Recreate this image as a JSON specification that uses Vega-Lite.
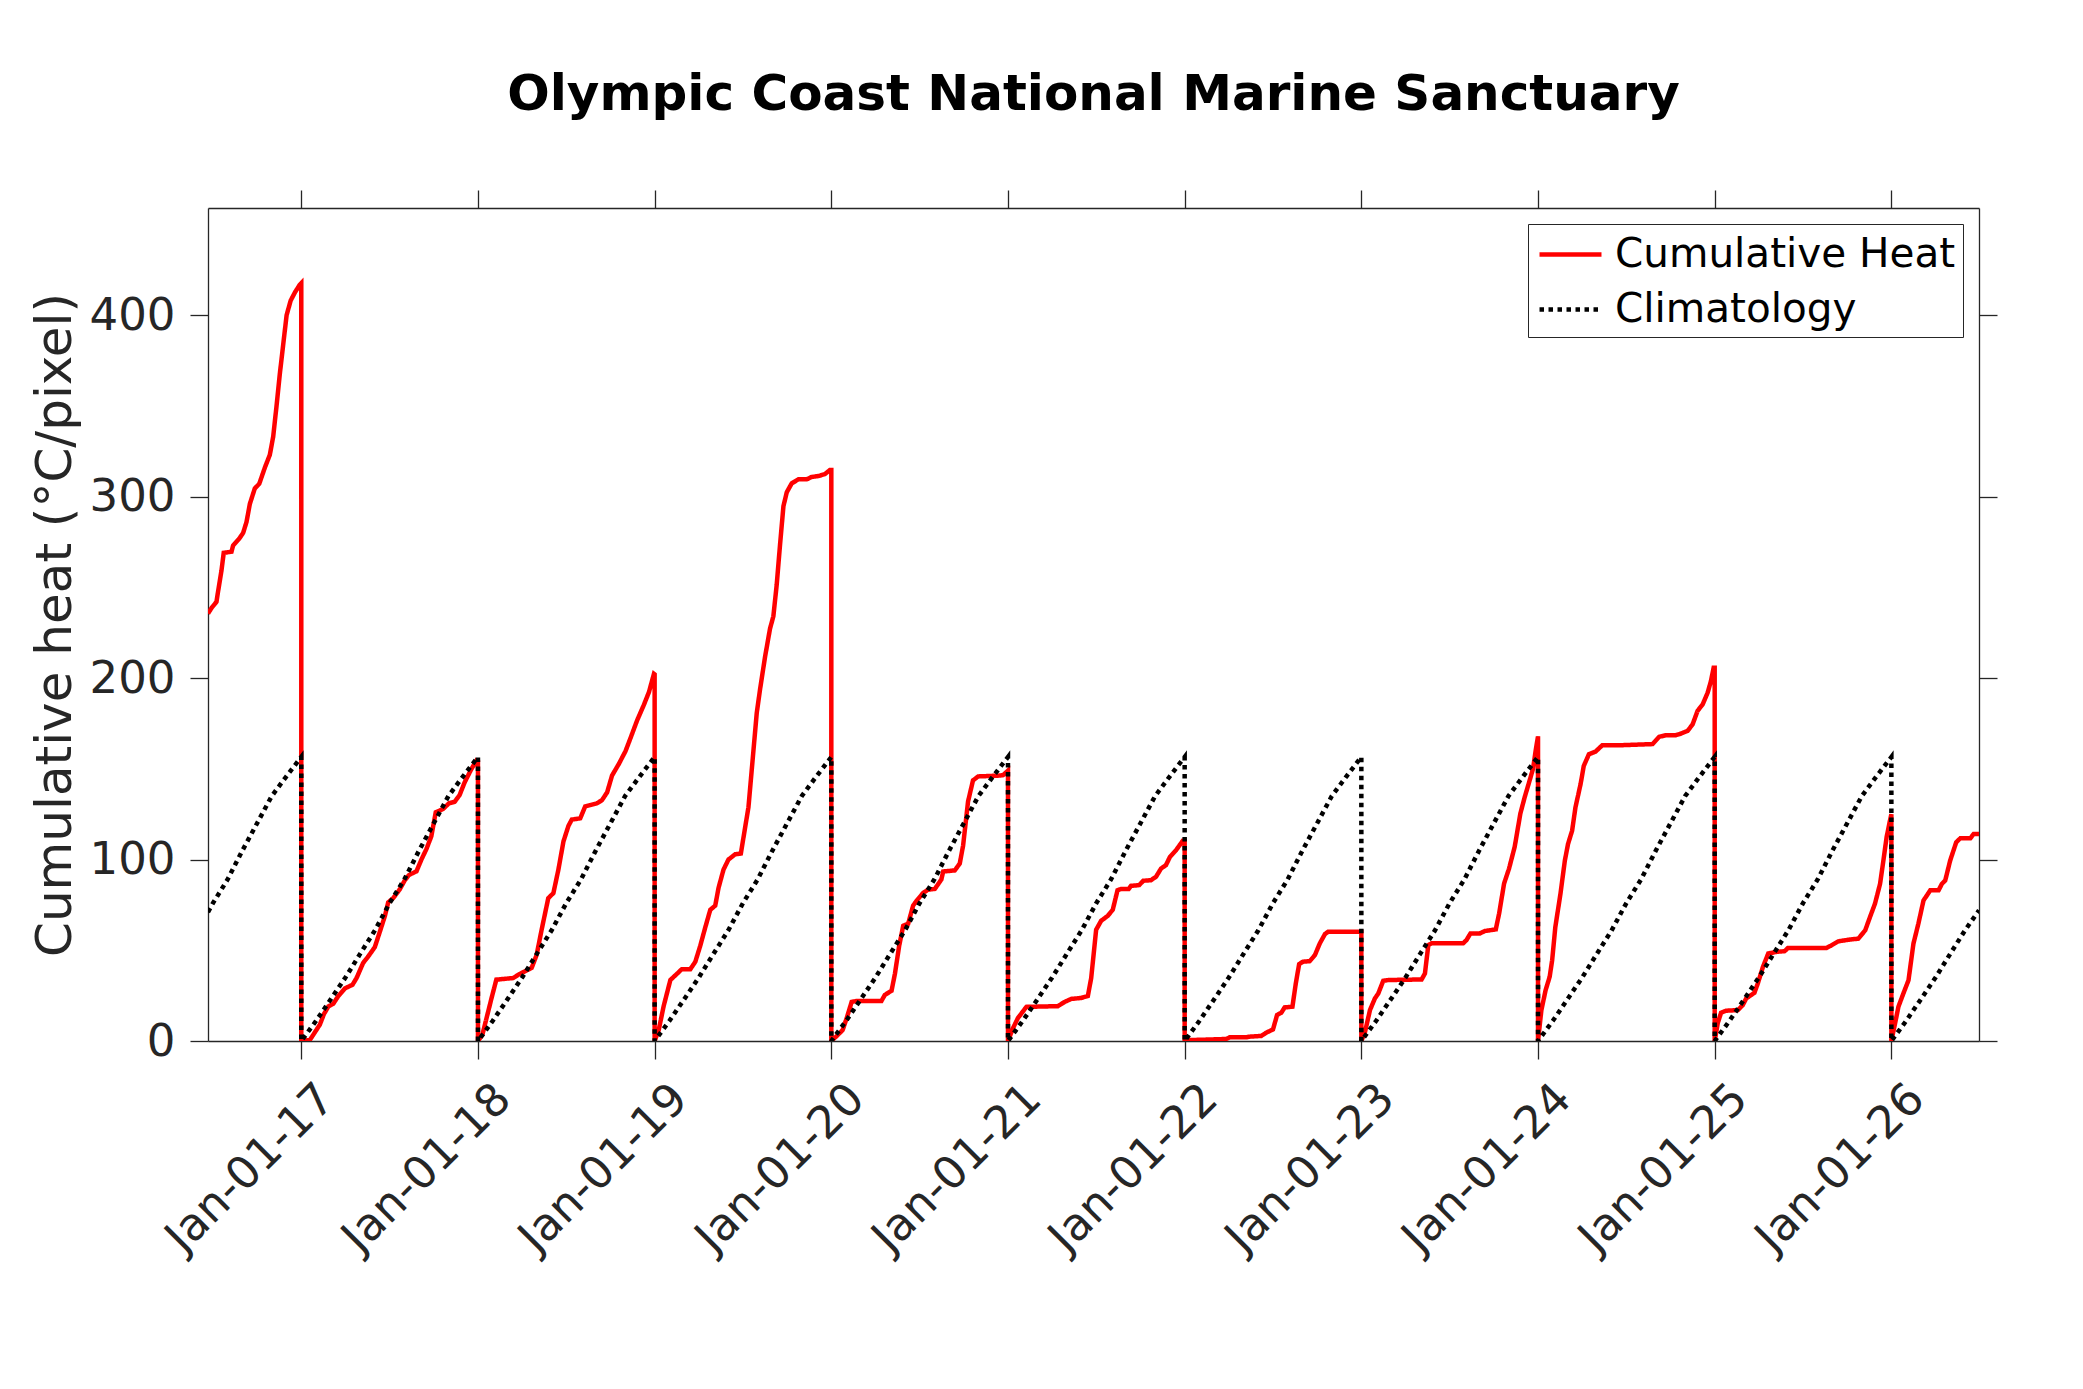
{
  "$schema": "https://vega.github.io/schema/vega-lite/v6.json",
  "autosize": {"type": "none"},
  "width": 1771,
  "height": 833,
  "padding": {"left": 208, "top": 208, "right": 104, "bottom": 348},
  "background": "white",
  "title": {
    "text": "Olympic Coast National Marine Sanctuary",
    "font": "DejaVu Sans",
    "fontSize": 50,
    "fontWeight": "bold",
    "color": "black",
    "anchor": "middle",
    "frame": "group",
    "baseline": "alphabetic",
    "offset": 29
  },
  "data": {
    "values": [
      {"s": "Cumulative Heat", "t": 2016.472, "v": 235.5},
      {"s": "Cumulative Heat", "t": 2016.492, "v": 238.6},
      {"s": "Cumulative Heat", "t": 2016.520, "v": 242},
      {"s": "Cumulative Heat", "t": 2016.529, "v": 247.7},
      {"s": "Cumulative Heat", "t": 2016.548, "v": 259},
      {"s": "Cumulative Heat", "t": 2016.561, "v": 269},
      {"s": "Cumulative Heat", "t": 2016.605, "v": 269.6},
      {"s": "Cumulative Heat", "t": 2016.614, "v": 273},
      {"s": "Cumulative Heat", "t": 2016.648, "v": 276.7},
      {"s": "Cumulative Heat", "t": 2016.671, "v": 280},
      {"s": "Cumulative Heat", "t": 2016.690, "v": 286},
      {"s": "Cumulative Heat", "t": 2016.709, "v": 296},
      {"s": "Cumulative Heat", "t": 2016.737, "v": 304.5},
      {"s": "Cumulative Heat", "t": 2016.762, "v": 307},
      {"s": "Cumulative Heat", "t": 2016.794, "v": 316},
      {"s": "Cumulative Heat", "t": 2016.822, "v": 323},
      {"s": "Cumulative Heat", "t": 2016.841, "v": 333},
      {"s": "Cumulative Heat", "t": 2016.860, "v": 350},
      {"s": "Cumulative Heat", "t": 2016.879, "v": 368},
      {"s": "Cumulative Heat", "t": 2016.898, "v": 384},
      {"s": "Cumulative Heat", "t": 2016.917, "v": 400},
      {"s": "Cumulative Heat", "t": 2016.940, "v": 408},
      {"s": "Cumulative Heat", "t": 2016.964, "v": 412.5},
      {"s": "Cumulative Heat", "t": 2016.992, "v": 416.8},
      {"s": "Cumulative Heat", "t": 2017.000, "v": 417.6},
      {"s": "Cumulative Heat", "t": 2017.000, "v": 0},
      {"s": "Cumulative Heat", "t": 2017.049, "v": 0.6},
      {"s": "Cumulative Heat", "t": 2017.077, "v": 4.8},
      {"s": "Cumulative Heat", "t": 2017.105, "v": 9},
      {"s": "Cumulative Heat", "t": 2017.128, "v": 14.8},
      {"s": "Cumulative Heat", "t": 2017.153, "v": 19},
      {"s": "Cumulative Heat", "t": 2017.181, "v": 20.5},
      {"s": "Cumulative Heat", "t": 2017.209, "v": 24.7},
      {"s": "Cumulative Heat", "t": 2017.247, "v": 29},
      {"s": "Cumulative Heat", "t": 2017.290, "v": 31},
      {"s": "Cumulative Heat", "t": 2017.313, "v": 34.7},
      {"s": "Cumulative Heat", "t": 2017.350, "v": 43},
      {"s": "Cumulative Heat", "t": 2017.379, "v": 46.6},
      {"s": "Cumulative Heat", "t": 2017.416, "v": 51.7},
      {"s": "Cumulative Heat", "t": 2017.444, "v": 60},
      {"s": "Cumulative Heat", "t": 2017.473, "v": 68.8},
      {"s": "Cumulative Heat", "t": 2017.492, "v": 76.4},
      {"s": "Cumulative Heat", "t": 2017.520, "v": 78.7},
      {"s": "Cumulative Heat", "t": 2017.557, "v": 83.5},
      {"s": "Cumulative Heat", "t": 2017.586, "v": 88.6},
      {"s": "Cumulative Heat", "t": 2017.610, "v": 91.5},
      {"s": "Cumulative Heat", "t": 2017.652, "v": 93.5},
      {"s": "Cumulative Heat", "t": 2017.680, "v": 100},
      {"s": "Cumulative Heat", "t": 2017.708, "v": 105.7},
      {"s": "Cumulative Heat", "t": 2017.736, "v": 112.8},
      {"s": "Cumulative Heat", "t": 2017.761, "v": 126},
      {"s": "Cumulative Heat", "t": 2017.802, "v": 127.8},
      {"s": "Cumulative Heat", "t": 2017.836, "v": 131},
      {"s": "Cumulative Heat", "t": 2017.868, "v": 131.8},
      {"s": "Cumulative Heat", "t": 2017.896, "v": 135.5},
      {"s": "Cumulative Heat", "t": 2017.925, "v": 142.6},
      {"s": "Cumulative Heat", "t": 2017.962, "v": 149.7},
      {"s": "Cumulative Heat", "t": 2017.991, "v": 154.5},
      {"s": "Cumulative Heat", "t": 2018.000, "v": 154},
      {"s": "Cumulative Heat", "t": 2018.000, "v": 0},
      {"s": "Cumulative Heat", "t": 2018.025, "v": 3.4},
      {"s": "Cumulative Heat", "t": 2018.047, "v": 12},
      {"s": "Cumulative Heat", "t": 2018.076, "v": 23.3},
      {"s": "Cumulative Heat", "t": 2018.104, "v": 33.8},
      {"s": "Cumulative Heat", "t": 2018.199, "v": 34.7},
      {"s": "Cumulative Heat", "t": 2018.237, "v": 37},
      {"s": "Cumulative Heat", "t": 2018.266, "v": 38.4},
      {"s": "Cumulative Heat", "t": 2018.304, "v": 40.3},
      {"s": "Cumulative Heat", "t": 2018.332, "v": 47.4},
      {"s": "Cumulative Heat", "t": 2018.361, "v": 61.6},
      {"s": "Cumulative Heat", "t": 2018.398, "v": 78.7},
      {"s": "Cumulative Heat", "t": 2018.427, "v": 81.5},
      {"s": "Cumulative Heat", "t": 2018.455, "v": 94.3},
      {"s": "Cumulative Heat", "t": 2018.484, "v": 110},
      {"s": "Cumulative Heat", "t": 2018.512, "v": 118.5},
      {"s": "Cumulative Heat", "t": 2018.531, "v": 122},
      {"s": "Cumulative Heat", "t": 2018.579, "v": 122.7},
      {"s": "Cumulative Heat", "t": 2018.607, "v": 129.3},
      {"s": "Cumulative Heat", "t": 2018.674, "v": 131},
      {"s": "Cumulative Heat", "t": 2018.702, "v": 132.7},
      {"s": "Cumulative Heat", "t": 2018.731, "v": 137},
      {"s": "Cumulative Heat", "t": 2018.759, "v": 146.3},
      {"s": "Cumulative Heat", "t": 2018.797, "v": 152.6},
      {"s": "Cumulative Heat", "t": 2018.835, "v": 159.7},
      {"s": "Cumulative Heat", "t": 2018.863, "v": 166.8},
      {"s": "Cumulative Heat", "t": 2018.901, "v": 176.7},
      {"s": "Cumulative Heat", "t": 2018.939, "v": 185.2},
      {"s": "Cumulative Heat", "t": 2018.968, "v": 192.3},
      {"s": "Cumulative Heat", "t": 2018.996, "v": 202.3},
      {"s": "Cumulative Heat", "t": 2019.000, "v": 202},
      {"s": "Cumulative Heat", "t": 2019.000, "v": 0},
      {"s": "Cumulative Heat", "t": 2019.023, "v": 6},
      {"s": "Cumulative Heat", "t": 2019.051, "v": 19.2},
      {"s": "Cumulative Heat", "t": 2019.089, "v": 33.6},
      {"s": "Cumulative Heat", "t": 2019.126, "v": 37},
      {"s": "Cumulative Heat", "t": 2019.154, "v": 39.6},
      {"s": "Cumulative Heat", "t": 2019.202, "v": 39.6},
      {"s": "Cumulative Heat", "t": 2019.230, "v": 43.6},
      {"s": "Cumulative Heat", "t": 2019.258, "v": 52.4},
      {"s": "Cumulative Heat", "t": 2019.286, "v": 62.4},
      {"s": "Cumulative Heat", "t": 2019.315, "v": 72.3},
      {"s": "Cumulative Heat", "t": 2019.343, "v": 74.6},
      {"s": "Cumulative Heat", "t": 2019.362, "v": 84.5},
      {"s": "Cumulative Heat", "t": 2019.390, "v": 94.5},
      {"s": "Cumulative Heat", "t": 2019.418, "v": 100},
      {"s": "Cumulative Heat", "t": 2019.456, "v": 102.9},
      {"s": "Cumulative Heat", "t": 2019.488, "v": 103.3},
      {"s": "Cumulative Heat", "t": 2019.503, "v": 112.2},
      {"s": "Cumulative Heat", "t": 2019.531, "v": 128.8},
      {"s": "Cumulative Heat", "t": 2019.550, "v": 149.8},
      {"s": "Cumulative Heat", "t": 2019.578, "v": 180.8},
      {"s": "Cumulative Heat", "t": 2019.597, "v": 194},
      {"s": "Cumulative Heat", "t": 2019.625, "v": 211.7},
      {"s": "Cumulative Heat", "t": 2019.653, "v": 227.2},
      {"s": "Cumulative Heat", "t": 2019.672, "v": 234},
      {"s": "Cumulative Heat", "t": 2019.691, "v": 251.5},
      {"s": "Cumulative Heat", "t": 2019.710, "v": 273.7},
      {"s": "Cumulative Heat", "t": 2019.729, "v": 294.7},
      {"s": "Cumulative Heat", "t": 2019.748, "v": 302.4},
      {"s": "Cumulative Heat", "t": 2019.776, "v": 307.3},
      {"s": "Cumulative Heat", "t": 2019.814, "v": 309.5},
      {"s": "Cumulative Heat", "t": 2019.861, "v": 309.5},
      {"s": "Cumulative Heat", "t": 2019.889, "v": 310.8},
      {"s": "Cumulative Heat", "t": 2019.927, "v": 311.3},
      {"s": "Cumulative Heat", "t": 2019.964, "v": 312.4},
      {"s": "Cumulative Heat", "t": 2019.992, "v": 314.6},
      {"s": "Cumulative Heat", "t": 2020.000, "v": 314.6},
      {"s": "Cumulative Heat", "t": 2020.000, "v": 0},
      {"s": "Cumulative Heat", "t": 2020.030, "v": 2.7},
      {"s": "Cumulative Heat", "t": 2020.064, "v": 6},
      {"s": "Cumulative Heat", "t": 2020.087, "v": 12.6},
      {"s": "Cumulative Heat", "t": 2020.115, "v": 21.5},
      {"s": "Cumulative Heat", "t": 2020.143, "v": 22.1},
      {"s": "Cumulative Heat", "t": 2020.284, "v": 22.1},
      {"s": "Cumulative Heat", "t": 2020.303, "v": 25.4},
      {"s": "Cumulative Heat", "t": 2020.341, "v": 27.7},
      {"s": "Cumulative Heat", "t": 2020.360, "v": 37},
      {"s": "Cumulative Heat", "t": 2020.384, "v": 52.4},
      {"s": "Cumulative Heat", "t": 2020.407, "v": 63.5},
      {"s": "Cumulative Heat", "t": 2020.435, "v": 64.6},
      {"s": "Cumulative Heat", "t": 2020.463, "v": 74.6},
      {"s": "Cumulative Heat", "t": 2020.482, "v": 77.2},
      {"s": "Cumulative Heat", "t": 2020.520, "v": 81.6},
      {"s": "Cumulative Heat", "t": 2020.548, "v": 83.4},
      {"s": "Cumulative Heat", "t": 2020.586, "v": 83.8},
      {"s": "Cumulative Heat", "t": 2020.623, "v": 89},
      {"s": "Cumulative Heat", "t": 2020.633, "v": 93.4},
      {"s": "Cumulative Heat", "t": 2020.699, "v": 94},
      {"s": "Cumulative Heat", "t": 2020.727, "v": 97.8},
      {"s": "Cumulative Heat", "t": 2020.746, "v": 107.7},
      {"s": "Cumulative Heat", "t": 2020.774, "v": 132},
      {"s": "Cumulative Heat", "t": 2020.802, "v": 143.6},
      {"s": "Cumulative Heat", "t": 2020.831, "v": 145.8},
      {"s": "Cumulative Heat", "t": 2020.944, "v": 146.2},
      {"s": "Cumulative Heat", "t": 2020.972, "v": 146.5},
      {"s": "Cumulative Heat", "t": 2021.000, "v": 149},
      {"s": "Cumulative Heat", "t": 2021.000, "v": 0},
      {"s": "Cumulative Heat", "t": 2021.028, "v": 7},
      {"s": "Cumulative Heat", "t": 2021.056, "v": 12.6},
      {"s": "Cumulative Heat", "t": 2021.104, "v": 18.8},
      {"s": "Cumulative Heat", "t": 2021.282, "v": 19.2},
      {"s": "Cumulative Heat", "t": 2021.320, "v": 21.5},
      {"s": "Cumulative Heat", "t": 2021.358, "v": 23.2},
      {"s": "Cumulative Heat", "t": 2021.414, "v": 23.7},
      {"s": "Cumulative Heat", "t": 2021.452, "v": 24.8},
      {"s": "Cumulative Heat", "t": 2021.471, "v": 34.7},
      {"s": "Cumulative Heat", "t": 2021.499, "v": 61.3},
      {"s": "Cumulative Heat", "t": 2021.527, "v": 66.2},
      {"s": "Cumulative Heat", "t": 2021.565, "v": 69},
      {"s": "Cumulative Heat", "t": 2021.593, "v": 72.3},
      {"s": "Cumulative Heat", "t": 2021.620, "v": 83.1},
      {"s": "Cumulative Heat", "t": 2021.639, "v": 83.7},
      {"s": "Cumulative Heat", "t": 2021.683, "v": 83.7},
      {"s": "Cumulative Heat", "t": 2021.696, "v": 85.5},
      {"s": "Cumulative Heat", "t": 2021.743, "v": 85.9},
      {"s": "Cumulative Heat", "t": 2021.766, "v": 88.3},
      {"s": "Cumulative Heat", "t": 2021.809, "v": 88.6},
      {"s": "Cumulative Heat", "t": 2021.838, "v": 90.5},
      {"s": "Cumulative Heat", "t": 2021.866, "v": 95},
      {"s": "Cumulative Heat", "t": 2021.894, "v": 96.9},
      {"s": "Cumulative Heat", "t": 2021.917, "v": 101.5},
      {"s": "Cumulative Heat", "t": 2021.951, "v": 105.1},
      {"s": "Cumulative Heat", "t": 2021.989, "v": 110.3},
      {"s": "Cumulative Heat", "t": 2022.000, "v": 110.3},
      {"s": "Cumulative Heat", "t": 2022.000, "v": 0},
      {"s": "Cumulative Heat", "t": 2022.027, "v": 0.5},
      {"s": "Cumulative Heat", "t": 2022.235, "v": 1.1},
      {"s": "Cumulative Heat", "t": 2022.254, "v": 2},
      {"s": "Cumulative Heat", "t": 2022.348, "v": 2},
      {"s": "Cumulative Heat", "t": 2022.367, "v": 2.4},
      {"s": "Cumulative Heat", "t": 2022.434, "v": 2.8},
      {"s": "Cumulative Heat", "t": 2022.462, "v": 4.6},
      {"s": "Cumulative Heat", "t": 2022.500, "v": 6.4},
      {"s": "Cumulative Heat", "t": 2022.523, "v": 14.3},
      {"s": "Cumulative Heat", "t": 2022.547, "v": 15.6},
      {"s": "Cumulative Heat", "t": 2022.566, "v": 18.5},
      {"s": "Cumulative Heat", "t": 2022.610, "v": 18.9},
      {"s": "Cumulative Heat", "t": 2022.629, "v": 31.7},
      {"s": "Cumulative Heat", "t": 2022.648, "v": 42.4},
      {"s": "Cumulative Heat", "t": 2022.670, "v": 43.7},
      {"s": "Cumulative Heat", "t": 2022.708, "v": 44},
      {"s": "Cumulative Heat", "t": 2022.737, "v": 47.3},
      {"s": "Cumulative Heat", "t": 2022.765, "v": 53.8},
      {"s": "Cumulative Heat", "t": 2022.794, "v": 58.9},
      {"s": "Cumulative Heat", "t": 2022.812, "v": 60.2},
      {"s": "Cumulative Heat", "t": 2023.000, "v": 60.2},
      {"s": "Cumulative Heat", "t": 2023.000, "v": 0},
      {"s": "Cumulative Heat", "t": 2023.021, "v": 5.1},
      {"s": "Cumulative Heat", "t": 2023.049, "v": 17.1},
      {"s": "Cumulative Heat", "t": 2023.077, "v": 23.5},
      {"s": "Cumulative Heat", "t": 2023.096, "v": 26.2},
      {"s": "Cumulative Heat", "t": 2023.124, "v": 33.2},
      {"s": "Cumulative Heat", "t": 2023.153, "v": 33.6},
      {"s": "Cumulative Heat", "t": 2023.341, "v": 33.9},
      {"s": "Cumulative Heat", "t": 2023.360, "v": 37.2},
      {"s": "Cumulative Heat", "t": 2023.379, "v": 52.8},
      {"s": "Cumulative Heat", "t": 2023.397, "v": 53.8},
      {"s": "Cumulative Heat", "t": 2023.576, "v": 53.8},
      {"s": "Cumulative Heat", "t": 2023.595, "v": 55.6},
      {"s": "Cumulative Heat", "t": 2023.618, "v": 59.3},
      {"s": "Cumulative Heat", "t": 2023.671, "v": 59.3},
      {"s": "Cumulative Heat", "t": 2023.699, "v": 60.6},
      {"s": "Cumulative Heat", "t": 2023.761, "v": 61.5},
      {"s": "Cumulative Heat", "t": 2023.780, "v": 70.3},
      {"s": "Cumulative Heat", "t": 2023.808, "v": 86.8},
      {"s": "Cumulative Heat", "t": 2023.836, "v": 95},
      {"s": "Cumulative Heat", "t": 2023.868, "v": 107},
      {"s": "Cumulative Heat", "t": 2023.900, "v": 125.3},
      {"s": "Cumulative Heat", "t": 2023.925, "v": 134.5},
      {"s": "Cumulative Heat", "t": 2023.953, "v": 143.7},
      {"s": "Cumulative Heat", "t": 2023.972, "v": 150.1},
      {"s": "Cumulative Heat", "t": 2023.987, "v": 160.2},
      {"s": "Cumulative Heat", "t": 2024.000, "v": 167.9},
      {"s": "Cumulative Heat", "t": 2024.000, "v": 0},
      {"s": "Cumulative Heat", "t": 2024.019, "v": 17},
      {"s": "Cumulative Heat", "t": 2024.043, "v": 28},
      {"s": "Cumulative Heat", "t": 2024.066, "v": 35.4},
      {"s": "Cumulative Heat", "t": 2024.080, "v": 44.5},
      {"s": "Cumulative Heat", "t": 2024.098, "v": 62.8},
      {"s": "Cumulative Heat", "t": 2024.127, "v": 81.1},
      {"s": "Cumulative Heat", "t": 2024.152, "v": 99.5},
      {"s": "Cumulative Heat", "t": 2024.170, "v": 108.6},
      {"s": "Cumulative Heat", "t": 2024.193, "v": 115.9},
      {"s": "Cumulative Heat", "t": 2024.212, "v": 128.8},
      {"s": "Cumulative Heat", "t": 2024.241, "v": 141.6},
      {"s": "Cumulative Heat", "t": 2024.259, "v": 151.6},
      {"s": "Cumulative Heat", "t": 2024.288, "v": 158},
      {"s": "Cumulative Heat", "t": 2024.326, "v": 159.5},
      {"s": "Cumulative Heat", "t": 2024.364, "v": 163},
      {"s": "Cumulative Heat", "t": 2024.477, "v": 163},
      {"s": "Cumulative Heat", "t": 2024.648, "v": 163.6},
      {"s": "Cumulative Heat", "t": 2024.686, "v": 167.6},
      {"s": "Cumulative Heat", "t": 2024.723, "v": 168.5},
      {"s": "Cumulative Heat", "t": 2024.780, "v": 168.5},
      {"s": "Cumulative Heat", "t": 2024.809, "v": 169.4},
      {"s": "Cumulative Heat", "t": 2024.847, "v": 170.9},
      {"s": "Cumulative Heat", "t": 2024.875, "v": 174.5},
      {"s": "Cumulative Heat", "t": 2024.903, "v": 181.9},
      {"s": "Cumulative Heat", "t": 2024.932, "v": 185.5},
      {"s": "Cumulative Heat", "t": 2024.960, "v": 191.9},
      {"s": "Cumulative Heat", "t": 2024.979, "v": 198.4},
      {"s": "Cumulative Heat", "t": 2024.994, "v": 205.7},
      {"s": "Cumulative Heat", "t": 2025.000, "v": 205.7},
      {"s": "Cumulative Heat", "t": 2025.000, "v": 0},
      {"s": "Cumulative Heat", "t": 2025.017, "v": 9.7},
      {"s": "Cumulative Heat", "t": 2025.036, "v": 15.6},
      {"s": "Cumulative Heat", "t": 2025.064, "v": 16.7},
      {"s": "Cumulative Heat", "t": 2025.131, "v": 17},
      {"s": "Cumulative Heat", "t": 2025.159, "v": 19.8},
      {"s": "Cumulative Heat", "t": 2025.178, "v": 23.4},
      {"s": "Cumulative Heat", "t": 2025.225, "v": 26.6},
      {"s": "Cumulative Heat", "t": 2025.244, "v": 31.7},
      {"s": "Cumulative Heat", "t": 2025.273, "v": 40.8},
      {"s": "Cumulative Heat", "t": 2025.303, "v": 48.2},
      {"s": "Cumulative Heat", "t": 2025.348, "v": 49.1},
      {"s": "Cumulative Heat", "t": 2025.396, "v": 49.5},
      {"s": "Cumulative Heat", "t": 2025.415, "v": 51.3},
      {"s": "Cumulative Heat", "t": 2025.633, "v": 51.3},
      {"s": "Cumulative Heat", "t": 2025.661, "v": 52.7},
      {"s": "Cumulative Heat", "t": 2025.699, "v": 54.9},
      {"s": "Cumulative Heat", "t": 2025.765, "v": 55.9},
      {"s": "Cumulative Heat", "t": 2025.813, "v": 56.4},
      {"s": "Cumulative Heat", "t": 2025.852, "v": 61},
      {"s": "Cumulative Heat", "t": 2025.879, "v": 68.3},
      {"s": "Cumulative Heat", "t": 2025.907, "v": 75.6},
      {"s": "Cumulative Heat", "t": 2025.936, "v": 86.6},
      {"s": "Cumulative Heat", "t": 2025.955, "v": 99.5},
      {"s": "Cumulative Heat", "t": 2025.973, "v": 112.3},
      {"s": "Cumulative Heat", "t": 2025.992, "v": 121.4},
      {"s": "Cumulative Heat", "t": 2026.000, "v": 125},
      {"s": "Cumulative Heat", "t": 2026.000, "v": 0},
      {"s": "Cumulative Heat", "t": 2026.021, "v": 9.7},
      {"s": "Cumulative Heat", "t": 2026.040, "v": 18.9},
      {"s": "Cumulative Heat", "t": 2026.068, "v": 26.2},
      {"s": "Cumulative Heat", "t": 2026.097, "v": 33.5},
      {"s": "Cumulative Heat", "t": 2026.125, "v": 53.7},
      {"s": "Cumulative Heat", "t": 2026.153, "v": 64.7},
      {"s": "Cumulative Heat", "t": 2026.182, "v": 77.5},
      {"s": "Cumulative Heat", "t": 2026.201, "v": 80.2},
      {"s": "Cumulative Heat", "t": 2026.220, "v": 83},
      {"s": "Cumulative Heat", "t": 2026.267, "v": 83},
      {"s": "Cumulative Heat", "t": 2026.286, "v": 86.6},
      {"s": "Cumulative Heat", "t": 2026.305, "v": 88.5},
      {"s": "Cumulative Heat", "t": 2026.333, "v": 99.5},
      {"s": "Cumulative Heat", "t": 2026.367, "v": 109.5},
      {"s": "Cumulative Heat", "t": 2026.390, "v": 111.7},
      {"s": "Cumulative Heat", "t": 2026.447, "v": 111.7},
      {"s": "Cumulative Heat", "t": 2026.466, "v": 114.1},
      {"s": "Cumulative Heat", "t": 2026.496, "v": 114.1},

      {"s": "Climatology", "t": 2016.472, "v": 71},
      {"s": "Climatology", "t": 2016.500, "v": 76},
      {"s": "Climatology", "t": 2016.583, "v": 89},
      {"s": "Climatology", "t": 2016.667, "v": 105},
      {"s": "Climatology", "t": 2016.750, "v": 120},
      {"s": "Climatology", "t": 2016.833, "v": 135},
      {"s": "Climatology", "t": 2016.917, "v": 146},
      {"s": "Climatology", "t": 2017.000, "v": 156.5},
      {"s": "Climatology", "t": 2017.000, "v": 0},
      {"s": "Climatology", "t": 2017.083, "v": 11},
      {"s": "Climatology", "t": 2017.167, "v": 23},
      {"s": "Climatology", "t": 2017.250, "v": 35},
      {"s": "Climatology", "t": 2017.333, "v": 48},
      {"s": "Climatology", "t": 2017.417, "v": 61},
      {"s": "Climatology", "t": 2017.500, "v": 76},
      {"s": "Climatology", "t": 2017.583, "v": 89},
      {"s": "Climatology", "t": 2017.667, "v": 105},
      {"s": "Climatology", "t": 2017.750, "v": 120},
      {"s": "Climatology", "t": 2017.833, "v": 135},
      {"s": "Climatology", "t": 2017.917, "v": 146},
      {"s": "Climatology", "t": 2018.000, "v": 156.5},
      {"s": "Climatology", "t": 2018.000, "v": 0},
      {"s": "Climatology", "t": 2018.083, "v": 11},
      {"s": "Climatology", "t": 2018.167, "v": 23},
      {"s": "Climatology", "t": 2018.250, "v": 35},
      {"s": "Climatology", "t": 2018.333, "v": 48},
      {"s": "Climatology", "t": 2018.417, "v": 61},
      {"s": "Climatology", "t": 2018.500, "v": 76},
      {"s": "Climatology", "t": 2018.583, "v": 89},
      {"s": "Climatology", "t": 2018.667, "v": 105},
      {"s": "Climatology", "t": 2018.750, "v": 120},
      {"s": "Climatology", "t": 2018.833, "v": 135},
      {"s": "Climatology", "t": 2018.917, "v": 146},
      {"s": "Climatology", "t": 2019.000, "v": 156.5},
      {"s": "Climatology", "t": 2019.000, "v": 0},
      {"s": "Climatology", "t": 2019.083, "v": 11},
      {"s": "Climatology", "t": 2019.167, "v": 23},
      {"s": "Climatology", "t": 2019.250, "v": 35},
      {"s": "Climatology", "t": 2019.333, "v": 48},
      {"s": "Climatology", "t": 2019.417, "v": 61},
      {"s": "Climatology", "t": 2019.500, "v": 76},
      {"s": "Climatology", "t": 2019.583, "v": 89},
      {"s": "Climatology", "t": 2019.667, "v": 105},
      {"s": "Climatology", "t": 2019.750, "v": 120},
      {"s": "Climatology", "t": 2019.833, "v": 135},
      {"s": "Climatology", "t": 2019.917, "v": 146},
      {"s": "Climatology", "t": 2020.000, "v": 156.5},
      {"s": "Climatology", "t": 2020.000, "v": 0},
      {"s": "Climatology", "t": 2020.083, "v": 11},
      {"s": "Climatology", "t": 2020.167, "v": 23},
      {"s": "Climatology", "t": 2020.250, "v": 35},
      {"s": "Climatology", "t": 2020.333, "v": 48},
      {"s": "Climatology", "t": 2020.417, "v": 61},
      {"s": "Climatology", "t": 2020.500, "v": 76},
      {"s": "Climatology", "t": 2020.583, "v": 89},
      {"s": "Climatology", "t": 2020.667, "v": 105},
      {"s": "Climatology", "t": 2020.750, "v": 120},
      {"s": "Climatology", "t": 2020.833, "v": 135},
      {"s": "Climatology", "t": 2020.917, "v": 146},
      {"s": "Climatology", "t": 2021.000, "v": 156.5},
      {"s": "Climatology", "t": 2021.000, "v": 0},
      {"s": "Climatology", "t": 2021.083, "v": 11},
      {"s": "Climatology", "t": 2021.167, "v": 23},
      {"s": "Climatology", "t": 2021.250, "v": 35},
      {"s": "Climatology", "t": 2021.333, "v": 48},
      {"s": "Climatology", "t": 2021.417, "v": 61},
      {"s": "Climatology", "t": 2021.500, "v": 76},
      {"s": "Climatology", "t": 2021.583, "v": 89},
      {"s": "Climatology", "t": 2021.667, "v": 105},
      {"s": "Climatology", "t": 2021.750, "v": 120},
      {"s": "Climatology", "t": 2021.833, "v": 135},
      {"s": "Climatology", "t": 2021.917, "v": 146},
      {"s": "Climatology", "t": 2022.000, "v": 156.5},
      {"s": "Climatology", "t": 2022.000, "v": 0},
      {"s": "Climatology", "t": 2022.083, "v": 11},
      {"s": "Climatology", "t": 2022.167, "v": 23},
      {"s": "Climatology", "t": 2022.250, "v": 35},
      {"s": "Climatology", "t": 2022.333, "v": 48},
      {"s": "Climatology", "t": 2022.417, "v": 61},
      {"s": "Climatology", "t": 2022.500, "v": 76},
      {"s": "Climatology", "t": 2022.583, "v": 89},
      {"s": "Climatology", "t": 2022.667, "v": 105},
      {"s": "Climatology", "t": 2022.750, "v": 120},
      {"s": "Climatology", "t": 2022.833, "v": 135},
      {"s": "Climatology", "t": 2022.917, "v": 146},
      {"s": "Climatology", "t": 2023.000, "v": 156.5},
      {"s": "Climatology", "t": 2023.000, "v": 0},
      {"s": "Climatology", "t": 2023.083, "v": 11},
      {"s": "Climatology", "t": 2023.167, "v": 23},
      {"s": "Climatology", "t": 2023.250, "v": 35},
      {"s": "Climatology", "t": 2023.333, "v": 48},
      {"s": "Climatology", "t": 2023.417, "v": 61},
      {"s": "Climatology", "t": 2023.500, "v": 76},
      {"s": "Climatology", "t": 2023.583, "v": 89},
      {"s": "Climatology", "t": 2023.667, "v": 105},
      {"s": "Climatology", "t": 2023.750, "v": 120},
      {"s": "Climatology", "t": 2023.833, "v": 135},
      {"s": "Climatology", "t": 2023.917, "v": 146},
      {"s": "Climatology", "t": 2024.000, "v": 156.5},
      {"s": "Climatology", "t": 2024.000, "v": 0},
      {"s": "Climatology", "t": 2024.083, "v": 11},
      {"s": "Climatology", "t": 2024.167, "v": 23},
      {"s": "Climatology", "t": 2024.250, "v": 35},
      {"s": "Climatology", "t": 2024.333, "v": 48},
      {"s": "Climatology", "t": 2024.417, "v": 61},
      {"s": "Climatology", "t": 2024.500, "v": 76},
      {"s": "Climatology", "t": 2024.583, "v": 89},
      {"s": "Climatology", "t": 2024.667, "v": 105},
      {"s": "Climatology", "t": 2024.750, "v": 120},
      {"s": "Climatology", "t": 2024.833, "v": 135},
      {"s": "Climatology", "t": 2024.917, "v": 146},
      {"s": "Climatology", "t": 2025.000, "v": 156.5},
      {"s": "Climatology", "t": 2025.000, "v": 0},
      {"s": "Climatology", "t": 2025.083, "v": 11},
      {"s": "Climatology", "t": 2025.167, "v": 23},
      {"s": "Climatology", "t": 2025.250, "v": 35},
      {"s": "Climatology", "t": 2025.333, "v": 48},
      {"s": "Climatology", "t": 2025.417, "v": 61},
      {"s": "Climatology", "t": 2025.500, "v": 76},
      {"s": "Climatology", "t": 2025.583, "v": 89},
      {"s": "Climatology", "t": 2025.667, "v": 105},
      {"s": "Climatology", "t": 2025.750, "v": 120},
      {"s": "Climatology", "t": 2025.833, "v": 135},
      {"s": "Climatology", "t": 2025.917, "v": 146},
      {"s": "Climatology", "t": 2026.000, "v": 156.5},
      {"s": "Climatology", "t": 2026.000, "v": 0},
      {"s": "Climatology", "t": 2026.083, "v": 11},
      {"s": "Climatology", "t": 2026.167, "v": 23},
      {"s": "Climatology", "t": 2026.250, "v": 35},
      {"s": "Climatology", "t": 2026.333, "v": 48},
      {"s": "Climatology", "t": 2026.417, "v": 61},
      {"s": "Climatology", "t": 2026.496, "v": 72}
    ]
  },
  "encoding": {
    "color": {
      "field": "s",
      "type": "nominal",
      "scale": {"domain": ["Cumulative Heat", "Climatology"], "range": ["#ff0000", "#000000"]},
      "legend": {"title": null}
    },
    "strokeDash": {
      "field": "s",
      "type": "nominal",
      "scale": {"domain": ["Cumulative Heat", "Climatology"], "range": [[1, 0], [4.5, 4.5]]},
      "legend": {"title": null}
    },
    "order": {"value": null}
  },
  "layer": [
    {
      "transform": [{"filter": "datum.s == 'Cumulative Heat'"}],
      "mark": {"type": "line", "strokeWidth": 4.5, "clip": true},
      "encoding": {
        "x": {
          "field": "t",
          "type": "quantitative",
          "scale": {"domain": [2016.472, 2026.496], "nice": false, "zero": false},
          "axis": {
            "orient": "bottom",
            "title": null,
            "values": [2017, 2018, 2019, 2020, 2021, 2022, 2023, 2024, 2025, 2026],
            "labelExpr": "'Jan-01-' + substring(toString(datum.value), 2, 4)",
            "labelAngle": -45,
            "labelAlign": "right",
            "labelBaseline": "middle",
            "labelPadding": 32,
            "labelOffset": 25,
            "labelLimit": 0,
            "labelOverlap": false,
            "labelFlush": false
          }
        },
        "y": {
          "field": "v",
          "type": "quantitative",
          "scale": {"domain": [0, 459], "nice": false},
          "axis": {
            "orient": "left",
            "title": "Cumulative heat (°C/pixel)",
            "values": [0, 100, 200, 300, 400],
            "labelPadding": 15,
            "titlePadding": 9
          }
        }
      }
    },
    {
      "transform": [{"filter": "datum.s == 'Climatology'"}],
      "mark": {"type": "line", "strokeWidth": 4.5, "strokeCap": "butt", "clip": true},
      "encoding": {
        "x": {
          "field": "t",
          "type": "quantitative",
          "axis": {
            "orient": "top",
            "title": null,
            "labels": false,
            "values": [2017, 2018, 2019, 2020, 2021, 2022, 2023, 2024, 2025, 2026]
          }
        },
        "y": {
          "field": "v",
          "type": "quantitative",
          "axis": {
            "orient": "right",
            "title": null,
            "labels": false,
            "values": [0, 100, 200, 300, 400]
          }
        }
      }
    }
  ],
  "resolve": {"axis": {"x": "independent", "y": "independent"}},
  "config": {
    "view": {"stroke": null},
    "axis": {
      "grid": false,
      "domainColor": "#262626",
      "domainWidth": 1.3,
      "tickColor": "#262626",
      "tickWidth": 1.3,
      "tickSize": 18,
      "labelFont": "DejaVu Sans",
      "labelFontSize": 45,
      "labelColor": "#262626",
      "titleFont": "DejaVu Sans",
      "titleFontSize": 50,
      "titleFontWeight": "normal",
      "titleColor": "#262626"
    },
    "legend": {
      "orient": "top-right",
      "offset": 16,
      "padding": 7,
      "strokeColor": "#262626",
      "fillColor": "white",
      "labelFont": "DejaVu Sans",
      "labelFontSize": 40.5,
      "labelColor": "black",
      "labelLimit": 1000,
      "labelOffset": 21,
      "symbolType": "M-1.476,0H1.476",
      "symbolSize": 1764,
      "symbolOffset": 12,
      "symbolStrokeWidth": 4.5,
      "rowPadding": 11
    }
  }
}
